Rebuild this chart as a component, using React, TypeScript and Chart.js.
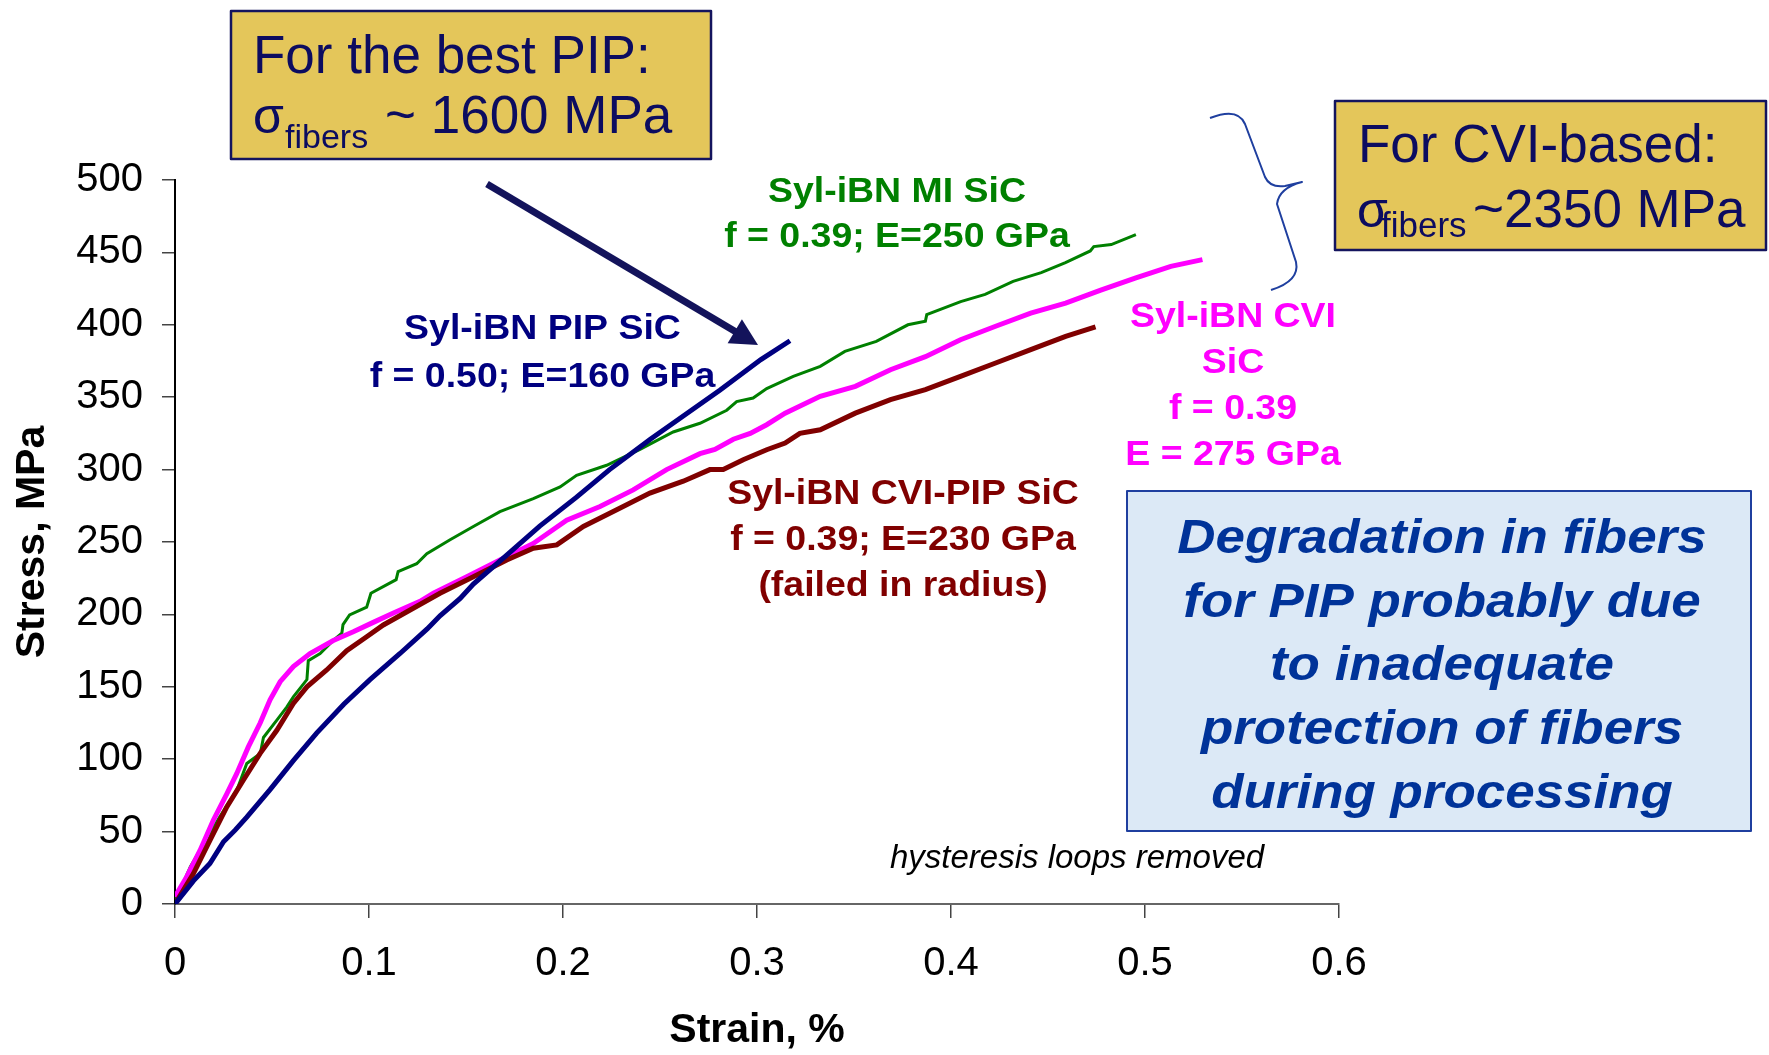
import React, { useEffect, useRef } from 'react';
import { Chart, registerables } from 'chart.js';

Chart.register(...registerables);

// ---------- data (strain in %, stress in MPa) ----------
const pipStrain = [0, 0.0095, 0.018, 0.025, 0.031, 0.037, 0.049, 0.061, 0.073, 0.087, 0.1005, 0.116, 0.13, 0.1366, 0.147, 0.1538, 0.171, 0.188, 0.207, 0.224, 0.245, 0.262, 0.281, 0.302, 0.317];
const pipStress = [0, 16, 28, 43, 51, 60, 79, 99, 118, 138, 155, 173, 190, 199, 211, 221, 241, 261, 281, 300, 321, 337, 355, 376, 389];

const miStrain = [0, 0.008, 0.023, 0.032, 0.037, 0.044, 0.0456, 0.0525, 0.0576, 0.061, 0.068, 0.0687, 0.0748, 0.0816, 0.086, 0.0866, 0.09, 0.0988, 0.101, 0.114, 0.115, 0.1246, 0.1298, 0.1418, 0.1538, 0.1675, 0.1847, 0.1985, 0.207, 0.2225, 0.2397, 0.2568, 0.2706, 0.2844, 0.2895, 0.298, 0.305, 0.3187, 0.3326, 0.3453, 0.3615, 0.3778, 0.3868, 0.3875, 0.405, 0.4176, 0.432, 0.4465, 0.459, 0.4718, 0.4736, 0.4826, 0.4953];
const miStress = [2, 26, 60, 79, 97, 104, 115, 127, 136, 143, 155, 168, 173, 182, 187, 193, 199.6, 205, 214.6, 224, 229.5, 235, 242, 251.5, 260.7, 271, 280, 288, 296, 303, 314, 326, 332, 341, 347, 349.4, 356, 364.4, 371.3, 381.6, 388.6, 400, 402.4, 407, 416, 421, 430, 436, 443, 451, 454, 455.4, 462.3];

const cviStrain = [0, 0.006, 0.0129, 0.0198, 0.0267, 0.0318, 0.0378, 0.0439, 0.049, 0.0542, 0.061, 0.0696, 0.0816, 0.0919, 0.1022, 0.1126, 0.1263, 0.1332, 0.1504, 0.1675, 0.1847, 0.2019, 0.2191, 0.2362, 0.2534, 0.2706, 0.2783, 0.2878, 0.2965, 0.305, 0.3145, 0.3326, 0.3507, 0.3688, 0.3868, 0.4049, 0.423, 0.4411, 0.4591, 0.4772, 0.4953, 0.5133, 0.5296];
const cviStress = [5, 18.7, 37, 58, 76, 90, 108.5, 125, 141, 153.5, 164, 173, 182, 188, 194.5, 201, 209, 214.6, 226, 237.6, 249, 265, 274.5, 286, 300, 311, 314, 321, 325, 331, 339, 350.6, 357.5, 369, 378, 389.7, 399, 408, 415, 424, 432.4, 440.4, 445];

const cvipipStrain = [0, 0.0095, 0.018, 0.0267, 0.0352, 0.0439, 0.0525, 0.061, 0.068, 0.0782, 0.0885, 0.0988, 0.1074, 0.1212, 0.1366, 0.1538, 0.171, 0.1847, 0.1968, 0.2105, 0.2277, 0.2448, 0.262, 0.2757, 0.2826, 0.2929, 0.305, 0.3145, 0.3221, 0.3326, 0.3507, 0.3688, 0.3868, 0.4049, 0.423, 0.4411, 0.4591, 0.4745];
const cvipipStress = [0, 21, 44, 67, 85.5, 104, 120, 138.5, 150, 161.6, 175, 184.6, 192.7, 203, 214.6, 226, 237.6, 245.7, 248, 260.7, 272.2, 283.8, 292, 300, 300, 306.8, 313.7, 318.3, 325, 327.5, 339, 348.3, 355.2, 364.4, 373.6, 382.8, 392, 398.5];

const xTicks = [0, 0.1, 0.2, 0.3, 0.4, 0.5, 0.6];
const yTicks = [0, 50, 100, 150, 200, 250, 300, 350, 400, 450, 500];

const xTitle = 'Strain, %';
const yTitle = 'Stress, MPa';

const pipLabel = ['Syl-iBN PIP SiC', 'f = 0.50; E=160 GPa'];
const miLabel = ['Syl-iBN MI SiC', 'f = 0.39; E=250 GPa'];
const cviLabel = ['Syl-iBN CVI', 'SiC', 'f = 0.39', 'E = 275 GPa'];
const cvipipLabel = ['Syl-iBN CVI-PIP SiC', 'f = 0.39; E=230 GPa', '(failed in radius)'];
const noteText = 'hysteresis loops removed';
const pipBoxLines = ['For the best PIP:', 'σ', 'fibers', '~ 1600 MPa'];
const cviBoxLines = ['For CVI-based:', 'σ', 'fibers', '~2350 MPa'];
const degradationLines = ['Degradation in fibers', 'for PIP probably due', 'to inadequate', 'protection of fibers', 'during processing'];

const FONT = "'Liberation Sans', Arial, Helvetica, sans-serif";

const toPts = (xs: number[], ys: number[]) => xs.map((x, i) => ({ x, y: ys[i] }));

function txt(ctx: CanvasRenderingContext2D, s: string, x: number, y: number, font: string, color: string, align: CanvasTextAlign = 'left', sx = 1) {
  ctx.save();
  ctx.font = font;
  ctx.fillStyle = color;
  ctx.textBaseline = 'alphabetic';
  ctx.textAlign = align;
  ctx.translate(x, y);
  ctx.scale(sx, 1);
  ctx.fillText(s, 0, 0);
  ctx.restore();
}

const annotationPlugin = {
  id: 'annotations',
  afterDraw(chart: any) {
    const ctx: CanvasRenderingContext2D = chart.ctx;
    ctx.save();

    // series labels
    const lf = `bold 35px ${FONT}`;
    const sx = 1.07;
    pipLabel.forEach((s, i) => txt(ctx, s, 542.5, 339 + i * 48, lf, '#000080', 'center', sx));
    miLabel.forEach((s, i) => txt(ctx, s, 897, 202 + i * 45, lf, '#008000', 'center', sx));
    cviLabel.forEach((s, i) => txt(ctx, s, 1233, 327 + i * 46, lf, '#FF00FF', 'center', sx));
    cvipipLabel.forEach((s, i) => txt(ctx, s, 903, 504 + i * 46, lf, '#800000', 'center', sx));

    txt(ctx, noteText, 1077, 868, `italic 33px ${FONT}`, '#000000', 'center');

    // arrow
    const ax0 = 487, ay0 = 184, ax1 = 758, ay1 = 345;
    const ang = Math.atan2(ay1 - ay0, ax1 - ax0);
    const hl = 27, hw = 14;
    const bx = ax1 - hl * Math.cos(ang), by = ay1 - hl * Math.sin(ang);
    ctx.strokeStyle = '#13135B';
    ctx.fillStyle = '#13135B';
    ctx.lineWidth = 7;
    ctx.lineCap = 'butt';
    ctx.beginPath();
    ctx.moveTo(ax0, ay0);
    ctx.lineTo(bx + 2 * Math.cos(ang), by + 2 * Math.sin(ang));
    ctx.stroke();
    ctx.beginPath();
    ctx.moveTo(ax1, ay1);
    ctx.lineTo(bx + hw * Math.sin(ang), by - hw * Math.cos(ang));
    ctx.lineTo(bx - hw * Math.sin(ang), by + hw * Math.cos(ang));
    ctx.closePath();
    ctx.fill();

    // brace
    ctx.strokeStyle = '#1F3F9F';
    ctx.lineWidth = 2;
    ctx.lineJoin = 'round';
    ctx.beginPath();
    ctx.moveTo(1210, 118);
    ctx.quadraticCurveTo(1238, 107, 1245, 124);
    ctx.lineTo(1265, 177);
    ctx.quadraticCurveTo(1270, 188, 1285, 186);
    ctx.lineTo(1302, 182);
    ctx.quadraticCurveTo(1279, 188, 1277, 204);
    ctx.lineTo(1296, 262);
    ctx.quadraticCurveTo(1300, 281, 1271, 290);
    ctx.stroke();

    // gold boxes
    const drawGold = (x0: number, y0: number, x1: number, y1: number) => {
      ctx.fillStyle = '#E4C65A';
      ctx.fillRect(x0, y0, x1 - x0, y1 - y0);
      ctx.strokeStyle = '#14145E';
      ctx.lineWidth = 2.5;
      ctx.strokeRect(x0, y0, x1 - x0, y1 - y0);
    };
    const navy = '#0C0C60';
    drawGold(231, 11, 711, 159);
    txt(ctx, pipBoxLines[0], 253, 73, `53px ${FONT}`, navy);
    txt(ctx, pipBoxLines[1], 253, 133, `50px ${FONT}`, navy);
    txt(ctx, pipBoxLines[2], 285, 148, `34px ${FONT}`, navy);
    txt(ctx, pipBoxLines[3], 385, 133, `53px ${FONT}`, navy);

    drawGold(1335, 101, 1766, 250);
    txt(ctx, cviBoxLines[0], 1358, 162, `53px ${FONT}`, navy);
    txt(ctx, cviBoxLines[1], 1357, 227, `50px ${FONT}`, navy);
    txt(ctx, cviBoxLines[2], 1381, 237, `35px ${FONT}`, navy);
    txt(ctx, cviBoxLines[3], 1473, 227, `53px ${FONT}`, navy);

    // blue box
    ctx.fillStyle = '#DCE9F6';
    ctx.fillRect(1127, 491, 624, 340);
    ctx.strokeStyle = '#1F3F9F';
    ctx.lineWidth = 2;
    ctx.strokeRect(1127, 491, 624, 340);
    const bl = [553, 617, 680, 744, 808];
    degradationLines.forEach((s, i) => txt(ctx, s, 1442, bl[i], `italic bold 49px ${FONT}`, '#003399', 'center', 1.08));

    ctx.restore();
  },
};

export default function App() {
  const ref = useRef<HTMLCanvasElement | null>(null);

  useEffect(() => {
    document.body.style.margin = '0';
    const canvas = ref.current;
    if (!canvas) return;
    const chart = new Chart(canvas, {
      type: 'scatter',
      data: {
        datasets: [
          { label: 'Syl-iBN PIP SiC', data: toPts(pipStrain, pipStress), borderColor: '#000080', backgroundColor: '#000080', borderWidth: 5, showLine: true, pointRadius: 0, tension: 0 },
          { label: 'Syl-iBN CVI-PIP SiC', data: toPts(cvipipStrain, cvipipStress), borderColor: '#800000', backgroundColor: '#800000', borderWidth: 5, showLine: true, pointRadius: 0, tension: 0 },
          { label: 'Syl-iBN CVI SiC', data: toPts(cviStrain, cviStress), borderColor: '#FF00FF', backgroundColor: '#FF00FF', borderWidth: 5, showLine: true, pointRadius: 0, tension: 0 },
          { label: 'Syl-iBN MI SiC', data: toPts(miStrain, miStress), borderColor: '#008000', backgroundColor: '#008000', borderWidth: 3, showLine: true, pointRadius: 0, tension: 0 },
        ],
      },
      options: {
        animation: false,
        responsive: false,
        maintainAspectRatio: false,
        layout: { padding: { top: 180, right: 430, left: 0, bottom: 0 } },
        plugins: { legend: { display: false }, tooltip: { enabled: false } },
        scales: {
          x: {
            type: 'linear',
            min: xTicks[0],
            max: xTicks[xTicks.length - 1],
            afterBuildTicks: (s: any) => { s.ticks = xTicks.map((v) => ({ value: v })); },
            afterFit: (s: any) => { s.height = 151; },
            ticks: {
              color: '#000',
              padding: 22,
              maxRotation: 0,
              font: { family: FONT, size: 40 },
              callback: (v: any) => (Number(v) === 0 ? '0' : Number(v).toFixed(1)),
            },
            grid: { drawOnChartArea: false, drawTicks: true, tickLength: 14, color: '#444', lineWidth: 1.5 },
            border: { display: true, color: '#666', width: 2 },
            title: { display: true, text: xTitle, color: '#000', font: { family: FONT, size: 41, weight: 'bold' }, padding: { top: 0, bottom: 0 } },
          },
          y: {
            type: 'linear',
            min: yTicks[0],
            max: yTicks[yTicks.length - 1],
            afterBuildTicks: (s: any) => { s.ticks = yTicks.map((v) => ({ value: v })); },
            afterFit: (s: any) => { s.width = 175; },
            ticks: { color: '#000', padding: 19, font: { family: FONT, size: 40 } },
            grid: { drawOnChartArea: false, drawTicks: true, tickLength: 13, color: '#444', lineWidth: 1.5 },
            border: { display: true, color: '#000', width: 2 },
            title: { display: true, text: yTitle, color: '#000', font: { family: FONT, size: 41, weight: 'bold' }, padding: { top: 8, bottom: 0 } },
          },
        },
      },
      plugins: [annotationPlugin],
    } as any);
    return () => chart.destroy();
  }, []);

  return (
    <div style={{ position: 'absolute', left: 0, top: 0, width: 1769, height: 1055, background: '#fff' }}>
      <canvas ref={ref} width={1769} height={1055} style={{ display: 'block' }} />
    </div>
  );
}
